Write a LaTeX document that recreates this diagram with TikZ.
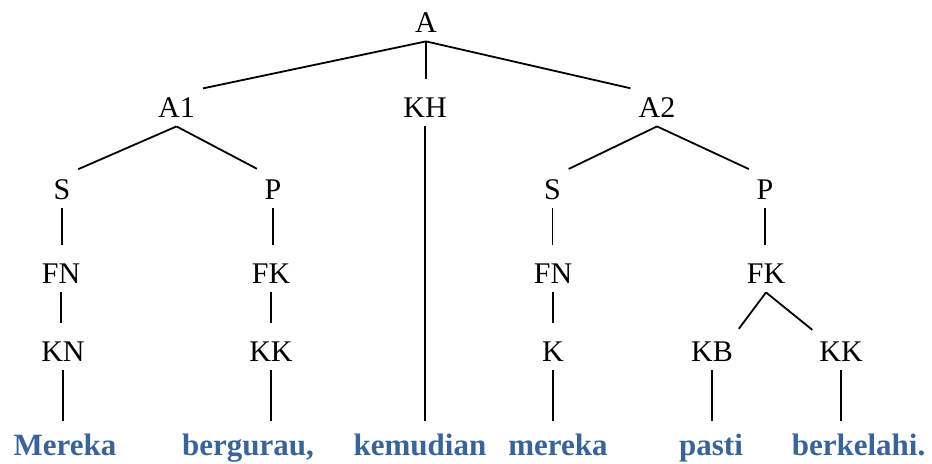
\documentclass[tikz,border=0pt]{standalone}
\usepackage{fontspec}
\setmainfont{Liberation Serif}
\definecolor{wordblue}{RGB}{58,99,150}
\tikzset{
  tree label/.style={anchor=base, font=\fontsize{15}{18}\selectfont, text height=10pt, text depth=0pt, inner xsep=1pt, inner ysep=4pt},
  tree word/.style={anchor=base, font=\bfseries\fontsize{15.5}{18}\selectfont, text=wordblue, text height=10.5pt, text depth=0pt, inner xsep=1pt, inner ysep=1.5pt},
  tree stem/.style={draw=black, line width=0.9pt, shorten >=5.5pt},
  tree fork/.style={draw=black, line width=0.9pt, shorten >=3pt},
}

\begin{document}
\begin{tikzpicture}[x=0.5pt, y=-0.5pt]
    \useasboundingbox (0,0) rectangle (932,464);
    % labels
    \node (a) [tree label] at (426,33) {A};
    \node (a1) [tree label] at (176.5,118) {A1};
    \node (kh) [tree label] at (425,118) {KH};
    \node (a2) [tree label] at (657,118) {A2};
    \node (s1) [tree label] at (62,200) {S};
    \node (p1) [tree label] at (273,200) {P};
    \node (s2) [tree label] at (552.5,200) {S};
    \node (p2) [tree label] at (765,200) {P};
    \node (fn1) [tree label] at (61,284) {FN};
    \node (fk1) [tree label] at (271,284) {FK};
    \node (fn2) [tree label] at (553,284) {FN};
    \node (fk2) [tree label] at (766,284) {FK};
    \node (kn1) [tree label] at (63,362) {KN};
    \node (kk1) [tree label] at (271,362) {KK};
    \node (k2) [tree label] at (553,362) {K};
    \node (kb2) [tree label] at (712,362) {KB};
    \node (kk2) [tree label] at (841,362) {KK};
    % words
    \node (w1) [tree word] at (65,456) {Mereka};
    \node (w2) [tree word] at (248,456) {bergurau,};
    \node (w3) [tree word] at (420,456) {kemudian};
    \node (w4) [tree word] at (558,456) {mereka};
    \node (w5) [tree word] at (711,456) {pasti};
    \node (w6) [tree word] at (858.5,456) {berkelahi.};
    % branches
    \draw[tree fork] (a.south) -- (a1.north east);
    \draw[tree stem] (a.south) -- (a.south |- kh.north);
    \draw[tree fork] (a.south) -- (a2.north west);
    \draw[tree fork] (a1.south) -- (s1.north east);
    \draw[tree fork] (a1.south) -- (p1.north west);
    \draw[tree fork] (a2.south) -- (s2.north east);
    \draw[tree fork] (a2.south) -- (p2.north west);
    \draw[tree fork] (fk2.south) -- (kb2.north east);
    \draw[tree fork] (fk2.south) -- (kk2.north west);
    \draw[tree stem] (s1.south) -- (s1.south |- fn1.north);
    \draw[tree stem] (p1.south) -- (p1.south |- fk1.north);
    \draw[tree stem] (s2.south) -- (s2.south |- fn2.north);
    \draw[tree stem] (p2.south) -- (p2.south |- fk2.north);
    \draw[tree stem] (fn1.south) -- (fn1.south |- kn1.north);
    \draw[tree stem] (fk1.south) -- (fk1.south |- kk1.north);
    \draw[tree stem] (fn2.south) -- (fn2.south |- k2.north);
    \draw[tree stem] (kh.south) -- (kh.south |- w3.north);
    \draw[tree stem] (kn1.south) -- (kn1.south |- w1.north);
    \draw[tree stem] (kk1.south) -- (kk1.south |- w2.north);
    \draw[tree stem] (k2.south) -- (k2.south |- w4.north);
    \draw[tree stem] (kb2.south) -- (kb2.south |- w5.north);
    \draw[tree stem] (kk2.south) -- (kk2.south |- w6.north);
  \end{tikzpicture}
\end{document}
